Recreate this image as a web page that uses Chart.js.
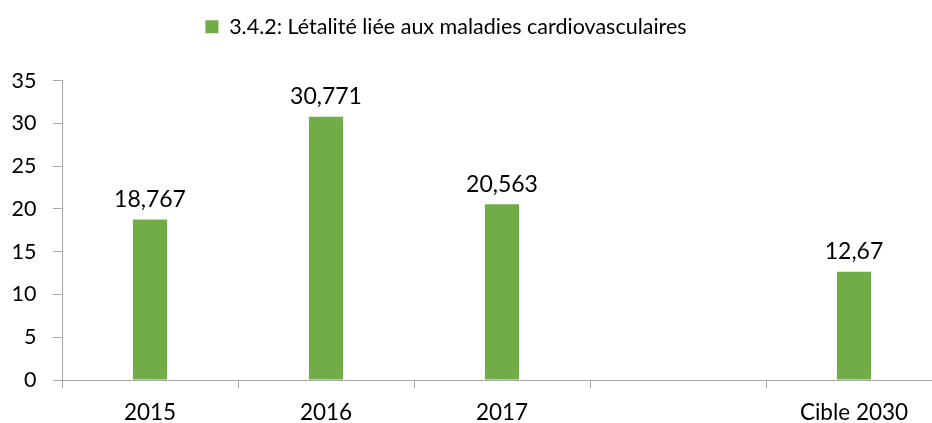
<!DOCTYPE html>
<html>
<head>
<meta charset="utf-8">
<script src="https://cdn.jsdelivr.net/npm/chart.js@4"></script>
<style>
html,body{margin:0;padding:0;overflow:hidden;background:#fff;width:932px;height:423px;}
#wrap{position:absolute;left:-50px;top:0;width:1000px;height:423px;}
</style>
</head>
<body>
<div id="wrap"><canvas id="c" width="1000" height="423"></canvas></div>
<script>
const categories = ['2015', '2016', '2017', '', 'Cible 2030'];
const values = [18.767, 30.771, 20.563, null, 12.67];
const seriesName = '3.4.2: Létalité liée aux maladies cardiovasculaires';
const yTicks = [0, 5, 10, 15, 20, 25, 30, 35];

const FONT = 'Lato';
const AXIS = '#a6a6a6';
const GREEN = '#70ad47';

function frNum(v) { return String(v).replace('.', ','); }

const labelPlugin = {
  id: 'valueLabels',
  afterDatasetsDraw(chart) {
    const ctx = chart.ctx;
    const meta = chart.getDatasetMeta(0);
    ctx.save();
    ctx.font = '23px ' + FONT;
    ctx.fillStyle = '#000';
    ctx.textAlign = 'center';
    ctx.textBaseline = 'alphabetic';
    meta.data.forEach((bar, i) => {
      const v = values[i];
      if (v === null || v === undefined) return;
      ctx.fillText(frNum(v), bar.x, bar.y - 12.5);
    });
    ctx.restore();
  }
};

new Chart(document.getElementById('c'), {
  type: 'bar',
  data: {
    labels: categories,
    datasets: [{
      label: seriesName,
      data: values,
      backgroundColor: GREEN,
      borderWidth: 0,
      barPercentage: 0.2,
      categoryPercentage: 0.97
    }]
  },
  options: {
    responsive: false,
    animation: false,
    layout: { padding: { left: 0, right: 8, top: 0, bottom: 0 } },
    plugins: {
      legend: {
        position: 'top',
        labels: {
          boxWidth: 13, boxHeight: 13,
          padding: 16,
          color: '#000',
          font: { family: FONT, size: 21.5 }
        }
      },
      subtitle: {
        display: true,
        text: ' ',
        weight: 500,
        font: { family: FONT, size: 10 },
        padding: { top: 21.2, bottom: 0 }
      },
      tooltip: { enabled: false }
    },
    scales: {
      x: {
        offset: true,
        grid: { display: true, drawOnChartArea: false, drawTicks: true, tickLength: 8, color: AXIS, offset: true },
        border: { color: AXIS, width: 1 },
        ticks: { color: '#000', font: { family: FONT, size: 22.5 }, padding: 11, maxRotation: 0, autoSkip: false },
        afterFit(scale) { scale.height = 43; }
      },
      y: {
        min: 0, max: 35,
        afterBuildTicks(scale) { scale.ticks = yTicks.map(v => ({ value: v })); },
        grid: { display: true, drawOnChartArea: false, drawTicks: true, tickLength: 9, color: AXIS },
        border: { color: AXIS, width: 1 },
        ticks: { color: '#000', font: { family: FONT, size: 21.5 }, padding: 16.5 },
        afterFit(scale) { scale.width = 112; }
      }
    }
  },
  plugins: [labelPlugin]
});
</script>
</body>
</html>
